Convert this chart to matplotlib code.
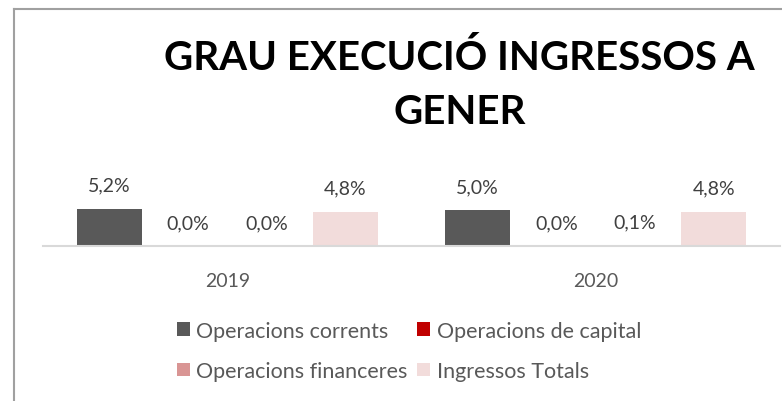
import numpy as np
import matplotlib.pyplot as plt
from matplotlib.lines import Line2D
from matplotlib.patches import Patch

plt.rcParams['font.family'] = ['Lato', 'DejaVu Sans']

years = ["2019", "2020"]
series = ["Operacions corrents", "Operacions de capital",
          "Operacions financeres", "Ingressos Totals"]
values = [
    [5.2, 5.0],   # Operacions corrents
    [0.0, 0.0],   # Operacions de capital
    [0.0, 0.1],   # Operacions financeres
    [4.8, 4.8],   # Ingressos Totals
]
colors = ["#595959", "#C00000", "#D99594", "#F2DCDB"]

W, H = 782, 402
fig = plt.figure(figsize=(W / 100, H / 100), dpi=100)

# axes: baseline at y=247px, x from 43 to 780 px
ax = fig.add_axes([43 / W, (H - 247) / H, (780 - 43) / W, 57 / H])
ax.set_xlim(-0.5, 1.5)
ax.set_ylim(0, 8)

x = np.arange(len(years))
width = 0.176
step = 0.2136
for i, (name, vals, c) in enumerate(zip(series, values, colors)):
    pos = x + (i - 1.5) * step
    ax.bar(pos, vals, width=width, color=c, label=name)
    for xp, v in zip(pos, vals):
        ax.annotate(f"{v:.1f}%".replace(".", ","), (xp, v),
                    xytext=(0, 17), textcoords="offset points",
                    ha="center", va="center", fontsize=14,
                    color="#404040", annotation_clip=False)

for s in ["top", "right", "left"]:
    ax.spines[s].set_visible(False)
ax.spines["bottom"].set_color("#D9D9D9")
ax.spines["bottom"].set_linewidth(1.5)
ax.set_yticks([])
ax.set_xticks(x)
ax.set_xticklabels(years, fontsize=14, color="#595959")
ax.tick_params(axis="x", length=0, pad=19)

fig.text(459 / W, 1 - 58 / H, "GRAU EXECUCIÓ INGRESSOS A", ha="center",
         va="center", fontsize=29, fontweight="bold", color="black")
fig.text(460 / W, 1 - 112 / H, "GENER", ha="center",
         va="center", fontsize=29, fontweight="bold", color="black")

# legend, two rows filled left to right
order = [0, 2, 1, 3]
handles = [Patch(facecolor=colors[k], edgecolor="none") for k in order]
labels = [series[k] for k in order]
leg = fig.legend(handles, labels, loc="center", ncol=2,
                 bbox_to_anchor=(409 / W, 1 - 352 / H),
                 frameon=False, fontsize=15.5, labelcolor="#595959",
                 handlelength=0.6, handleheight=0.6, handletextpad=0.3,
                 columnspacing=0.45, labelspacing=0.95)

# chart border (partial, cropped)
fig.add_artist(Line2D([14 / W, 14 / W], [0, 1 - 10 / H],
                      transform=fig.transFigure, color="#A0A0A0", lw=1.5))
fig.add_artist(Line2D([14 / W, 1], [1 - 10 / H, 1 - 10 / H],
                      transform=fig.transFigure, color="#A0A0A0", lw=1.5))

fig.savefig("out.png", dpi=100)
